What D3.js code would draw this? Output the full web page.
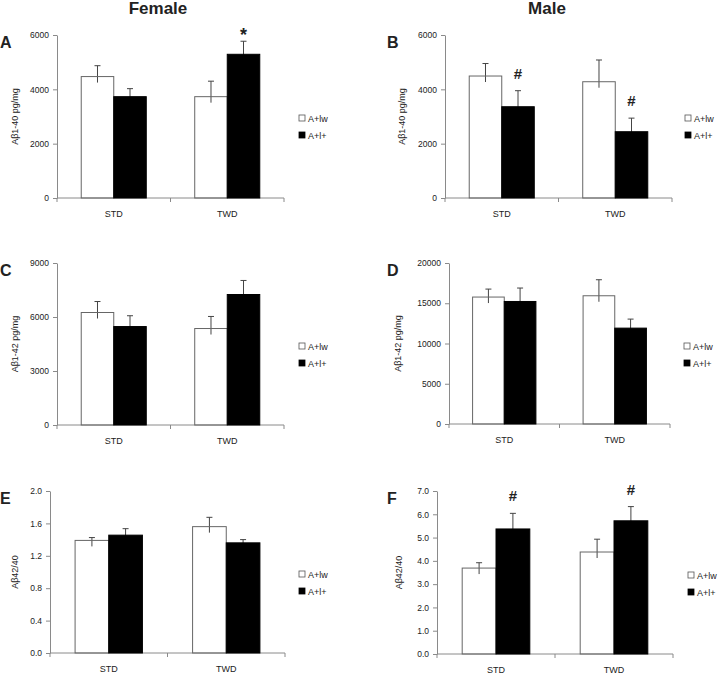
<!DOCTYPE html>
<html>
<head>
<meta charset="utf-8">
<script src="https://cdn.jsdelivr.net/npm/d3@7"></script>
<style>
  body { margin: 0; background: #fff; }
  text { font-family: "Liberation Sans", Arial, sans-serif; fill: #222; }
</style>
</head>
<body>
<svg id="chart" width="720" height="674"></svg>
<script>
const categories = ['STD', 'TWD']
const series = ['A+lw', 'A+l+']
const columns = ['Female', 'Male']

// means and upper error (SEM) per category
const abeta40FemaleLw = [4470, 3730]
const abeta40FemaleLwErr = [400, 570]
const abeta40FemaleLp = [3730, 5290]
const abeta40FemaleLpErr = [295, 480]
const abeta40FemaleMarks = ['', '*']

const abeta40MaleLw = [4490, 4280]
const abeta40MaleLwErr = [460, 800]
const abeta40MaleLp = [3360, 2440]
const abeta40MaleLpErr = [590, 500]
const abeta40MaleMarks = ['#', '#']

const abeta42FemaleLw = [6250, 5360]
const abeta42FemaleLwErr = [610, 670]
const abeta42FemaleLp = [5470, 7250]
const abeta42FemaleLpErr = [600, 780]

const abeta42MaleLw = [15770, 15930]
const abeta42MaleLwErr = [990, 1990]
const abeta42MaleLp = [15220, 11910]
const abeta42MaleLpErr = [1670, 1120]

const ratioFemaleLw = [1.39, 1.56]
const ratioFemaleLwErr = [0.035, 0.115]
const ratioFemaleLp = [1.455, 1.36]
const ratioFemaleLpErr = [0.08, 0.04]

const ratioMaleLw = [3.69, 4.38]
const ratioMaleLwErr = [0.23, 0.55]
const ratioMaleLp = [5.37, 5.72]
const ratioMaleLpErr = [0.67, 0.61]
const ratioMaleMarks = ['#', '#']

const ticks40 = [0, 2000, 4000, 6000]
const ticks42Female = [0, 3000, 6000, 9000]
const ticks42Male = [0, 5000, 10000, 15000, 20000]
const ticksRatioFemale = [0, 0.4, 0.8, 1.2, 1.6, 2.0]
const ticksRatioMale = [0, 1, 2, 3, 4, 5, 6, 7]

const label40 = 'Aβ1-40  pg/mg'
const label42 = 'Aβ1-42  pg/mg'
const labelRatio = 'Aβ42/40'

const panels = [
    {letter: 'A', box: [57, 284, 35, 198], lg: [302, 118], ylabX: 18, ticks: ticks40, fmt: 'd', ylab: label40,
     lw: abeta40FemaleLw, lwErr: abeta40FemaleLwErr, lp: abeta40FemaleLp, lpErr: abeta40FemaleLpErr, marks: abeta40FemaleMarks},
    {letter: 'B', box: [445, 672, 35, 198], lg: [688, 118], ylabX: 405, ticks: ticks40, fmt: 'd', ylab: label40,
     lw: abeta40MaleLw, lwErr: abeta40MaleLwErr, lp: abeta40MaleLp, lpErr: abeta40MaleLpErr, marks: abeta40MaleMarks},
    {letter: 'C', box: [57, 284, 263, 425], lg: [302, 346], ylabX: 18, ticks: ticks42Female, fmt: 'd', ylab: label42,
     lw: abeta42FemaleLw, lwErr: abeta42FemaleLwErr, lp: abeta42FemaleLp, lpErr: abeta42FemaleLpErr},
    {letter: 'D', box: [449, 670, 263, 424], lg: [687, 346], ylabX: 401, ticks: ticks42Male, fmt: 'd', ylab: label42,
     lw: abeta42MaleLw, lwErr: abeta42MaleLwErr, lp: abeta42MaleLp, lpErr: abeta42MaleLpErr},
    {letter: 'E', box: [50, 285, 491, 653], lg: [302, 574], ylabX: 18, ticks: ticksRatioFemale, fmt: '.1f', ylab: labelRatio,
     lw: ratioFemaleLw, lwErr: ratioFemaleLwErr, lp: ratioFemaleLp, lpErr: ratioFemaleLpErr},
    {letter: 'F', box: [437, 673, 491, 654], lg: [691, 575], ylabX: 402, ticks: ticksRatioMale, fmt: '.1f', ylab: labelRatio,
     lw: ratioMaleLw, lwErr: ratioMaleLwErr, lp: ratioMaleLp, lpErr: ratioMaleLpErr, marks: ratioMaleMarks},
]

const svg = d3.select('#chart')
const axisColor = '#8a8a8a'

// --- column titles
svg.selectAll('text.col-title')
    .data(columns)
    .join('text')
    .attr('class', 'col-title')
    .attr('x', (d, i) => i === 0 ? 158 : 547)
    .attr('y', 14)
    .attr('text-anchor', 'middle')
    .style('font-size', '17px')
    .style('font-weight', 'bold')
    .text(d => d)

function drawPanel(p) {
    const [x0, x1, yTop, yBot] = p.box
    const g = svg.append('g')

    const x = d3.scaleBand().domain(categories).range([x0, x1])
    const xs = d3.scaleBand().domain(series).range([0, x.bandwidth()]).paddingOuter(0.745)
    const y = d3.scaleLinear().domain([0, d3.max(p.ticks)]).range([yBot, yTop])

    // y axis
    const yAxis = g.append('g')
        .attr('transform', `translate(${x0},0)`)
        .call(d3.axisLeft(y).tickValues(p.ticks).tickFormat(d3.format(p.fmt)).tickSize(4).tickSizeOuter(0).tickPadding(4))
    yAxis.select('.domain').attr('stroke', axisColor)
    yAxis.selectAll('.tick line').attr('stroke', axisColor)
    yAxis.selectAll('.tick text')
        .style('font-size', '8.5px')
        .style('font-family', '"Liberation Sans", Arial, sans-serif')
        .attr('fill', '#333')

    // x axis, ticks at the band edges
    const xAxisG = g.append('g')
    xAxisG.append('line')
        .attr('x1', x0).attr('x2', x1).attr('y1', yBot).attr('y2', yBot)
        .attr('stroke', axisColor)
    const edges = [x0, ...categories.map(c => x(c) + x.bandwidth())]
    xAxisG.selectAll('line.edge')
        .data(edges)
        .join('line')
        .attr('class', 'edge')
        .attr('x1', d => d).attr('x2', d => d)
        .attr('y1', yBot).attr('y2', yBot + 4)
        .attr('stroke', axisColor)
    xAxisG.selectAll('text')
        .data(categories)
        .join('text')
        .attr('x', d => x(d) + x.bandwidth() / 2)
        .attr('y', yBot + 19)
        .attr('text-anchor', 'middle')
        .style('font-size', '9px')
        .text(d => d)

    // one row per bar
    const rows = []
    categories.forEach((c, i) => {
        rows.push({cat: c, s: series[0], v: p.lw[i], e: p.lwErr[i], mark: ''})
        rows.push({cat: c, s: series[1], v: p.lp[i], e: p.lpErr[i], mark: p.marks ? p.marks[i] : ''})
    })
    const bx = d => x(d.cat) + xs(d.s)
    const cx = d => bx(d) + xs.bandwidth() / 2

    // error bars (upper only)
    g.selectAll('line.err')
        .data(rows)
        .join('line')
        .attr('class', 'err')
        .attr('x1', cx).attr('x2', cx)
        .attr('y1', d => y(d.v) + 6).attr('y2', d => y(d.v + d.e))
        .attr('stroke', '#444')
    g.selectAll('line.cap')
        .data(rows)
        .join('line')
        .attr('class', 'cap')
        .attr('x1', d => cx(d) - 3).attr('x2', d => cx(d) + 3)
        .attr('y1', d => y(d.v + d.e)).attr('y2', d => y(d.v + d.e))
        .attr('stroke', '#444')

    g.selectAll('rect.bar')
        .data(rows)
        .join('rect')
        .attr('class', 'bar')
        .attr('x', bx)
        .attr('y', d => y(d.v))
        .attr('width', xs.bandwidth())
        .attr('height', d => yBot - y(d.v))
        .attr('fill', d => d.s === series[0] ? 'none' : '#000')
        .attr('stroke', d => d.s === series[0] ? '#666' : '#000')
        .attr('stroke-width', 1)

    // significance marks
    g.selectAll('text.mark')
        .data(rows.filter(d => d.mark))
        .join('text')
        .attr('class', 'mark')
        .attr('x', cx)
        .attr('y', d => y(d.v + d.e) - (d.mark === '*' ? 0 : 12))
        .attr('text-anchor', 'middle')
        .style('font-size', d => d.mark === '*' ? '18px' : '15px')
        .style('font-weight', 'bold')
        .text(d => d.mark)

    // y label
    g.append('text')
        .attr('transform', `translate(${p.ylabX},${(yTop + yBot) / 2}) rotate(-90)`)
        .attr('text-anchor', 'middle')
        .style('font-size', '9px')
        .text(p.ylab)

    // panel letter: left column at 0, right column at 387
    g.append('text')
        .attr('x', x0 < 360 ? 0 : 387)
        .attr('y', yTop + 13)
        .style('font-size', '16px')
        .style('font-weight', 'bold')
        .text(p.letter)

    // legend
    const lg = g.selectAll('g.legend')
        .data(series)
        .join('g')
        .attr('class', 'legend')
        .attr('transform', (d, i) => `translate(${p.lg[0]},${p.lg[1] + i * 17})`)
    lg.append('rect')
        .attr('x', -3).attr('y', -3).attr('width', 6).attr('height', 6)
        .attr('fill', (d, i) => i === 0 ? '#fff' : '#000')
        .attr('stroke', (d, i) => i === 0 ? '#555' : '#000')
        .attr('stroke-width', 0.8)
    lg.append('text')
        .attr('x', 6).attr('y', 3.5)
        .style('font-size', '9px')
        .text(d => d)
}

panels.forEach(drawPanel)
</script>
</body>
</html>
